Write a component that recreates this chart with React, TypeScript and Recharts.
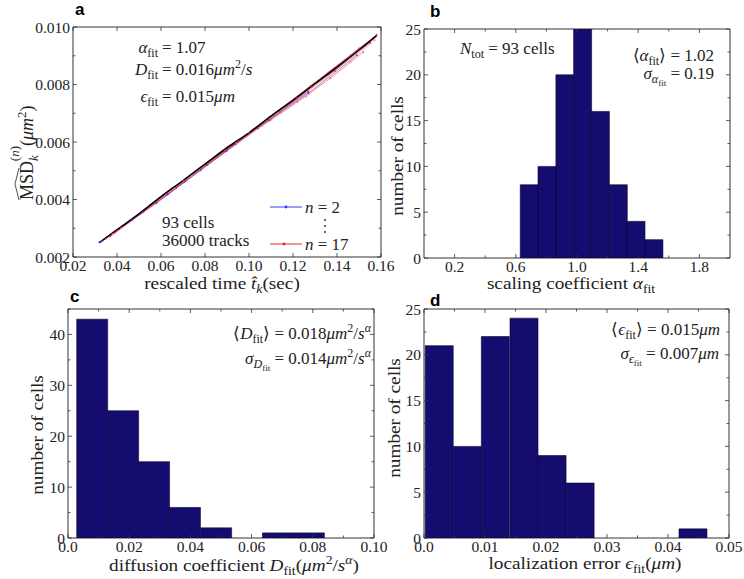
import React from 'react';
import { LineChart, Line, XAxis, YAxis, BarChart, Bar, ReferenceArea } from 'recharts';

const SERIF = '"Liberation Serif", "Times New Roman", serif';
const SANS = '"Liberation Sans", Arial, sans-serif';
const NAVY = '#140c6e';
const FRAME = '#333';
const INK = '#222';

// ---- panel a: rescaled MSD curves, n = 2 .. 17 ----
const fitT = [0.032, 0.04, 0.05, 0.06, 0.07, 0.08, 0.09, 0.1, 0.11, 0.12, 0.13, 0.14, 0.15, 0.158];
const fitMSD = [0.0025, 0.00295, 0.0035, 0.0041, 0.00466, 0.00523, 0.0058, 0.00632, 0.0069, 0.00745, 0.00803, 0.0086, 0.0092, 0.0097];

const n2T = [0.032, 0.047, 0.063, 0.078, 0.094];
const n2MSD = [0.00251, 0.0033, 0.00417, 0.00502, 0.00593];
const n5T = [0.033, 0.052, 0.071, 0.09, 0.109, 0.127];
const n5MSD = [0.00255, 0.00357, 0.00463, 0.0057, 0.00676, 0.00775];
const n8T = [0.035, 0.058, 0.081, 0.104, 0.127, 0.149];
const n8MSD = [0.00264, 0.00388, 0.0052, 0.00648, 0.0077, 0.00902];
const n11T = [0.037, 0.063, 0.089, 0.114, 0.139, 0.155];
const n11MSD = [0.00272, 0.0042, 0.00567, 0.00705, 0.00848, 0.00945];
const n13T = [0.038, 0.066, 0.094, 0.11, 0.122, 0.137, 0.152];
const n13MSD = [0.0028, 0.00437, 0.00596, 0.00677, 0.0074, 0.00822, 0.00912];
const n14T = [0.039, 0.067, 0.095, 0.122, 0.15];
const n14MSD = [0.00285, 0.00442, 0.00602, 0.00753, 0.00925];
const n16T = [0.042, 0.074, 0.106, 0.126, 0.146, 0.157];
const n16MSD = [0.003, 0.00482, 0.00656, 0.00758, 0.00878, 0.00955];
const n17T = [0.04, 0.07, 0.1, 0.128, 0.158];
const n17MSD = [0.00292, 0.00465, 0.00632, 0.00795, 0.00972];

const aXMajor = [0.02, 0.04, 0.06, 0.08, 0.1, 0.12, 0.14, 0.16];
const aYMajor = [0.002, 0.004, 0.006, 0.008, 0.01];
const aYMinor = [0.003, 0.005, 0.007, 0.009];

// ---- panel b: scaling coefficient histogram ----
const alphaBins = [0.687, 0.803, 0.92, 1.036, 1.152, 1.269, 1.385, 1.502];
const alphaCounts = [8, 10, 20, 25, 16, 8, 4, 2];
const bXMajor = [0.2, 0.6, 1.0, 1.4, 1.8];
const bXMinor = [0.4, 0.8, 1.2, 1.6];

// ---- panel c: diffusion coefficient histogram ----
const dBins = [0.0079, 0.018, 0.0281, 0.0382, 0.0484, 0.0585, 0.0686, 0.0787];
const dCounts = [43, 25, 15, 6, 2, 0, 1, 1];
const cXMajor = [0, 0.02, 0.04, 0.06, 0.08, 0.1];
const cXMinor = [0.01, 0.03, 0.05, 0.07, 0.09];
const cYMajor = [0, 10, 20, 30, 40];
const cYMinor = [5, 15, 25, 35, 45];

// ---- panel d: localization error histogram ----
const epsBins = [0.0025, 0.0071, 0.0117, 0.0164, 0.021, 0.0256, 0.0303, 0.0349, 0.0395, 0.0441];
const epsCounts = [21, 10, 22, 24, 9, 6, 0, 0, 0, 1];
const dXMajor = [0, 0.01, 0.02, 0.03, 0.04, 0.05];
const dXMinor = [0.005, 0.015, 0.025, 0.035, 0.045];

const countMajor = [0, 5, 10, 15, 20, 25];
const countMinor = [2.5, 7.5, 12.5, 17.5, 22.5];

const zip = (xs: number[], ys: number[], kx: string, ky: string) => xs.map((x, i) => ({ [kx]: x, [ky]: ys[i] }));
const isIn = (v: number, list: number[]) => list.some((m) => Math.abs(m - v) < 1e-9);
const sorted = (a: number[], b: number[]) => [...a, ...b].sort((p, q) => p - q);
const fmt0 = (d: number) => (v: number) => (v === 0 ? '0.0' : v.toFixed(d));

// inward ticks on bottom + top, label only on major ticks
function xTick(major: number[], fmt: (v: number) => string, plotH: number) {
  return (p: any) => {
    const { x, y, payload } = p;
    const big = isIn(payload.value, major);
    const len = big ? 4 : 2.5;
    return (
      <g>
        <line x1={x} x2={x} y1={y} y2={y - len} stroke={FRAME} strokeWidth={0.8} />
        <line x1={x} x2={x} y1={y - plotH} y2={y - plotH + len} stroke={FRAME} strokeWidth={0.8} />
        {big && (
          <text x={x} y={y + 14} textAnchor="middle" style={{ fontFamily: SERIF, fontSize: 15.5 }} fill={INK}>
            {fmt(payload.value)}
          </text>
        )}
      </g>
    );
  };
}

// inward ticks on left + right
function yTick(major: number[], fmt: (v: number) => string, plotW: number) {
  return (p: any) => {
    const { x, y, payload } = p;
    const big = isIn(payload.value, major);
    const len = big ? 4 : 2.5;
    return (
      <g>
        <line x1={x} x2={x + len} y1={y} y2={y} stroke={FRAME} strokeWidth={0.8} />
        <line x1={x + plotW - len} x2={x + plotW} y1={y} y2={y} stroke={FRAME} strokeWidth={0.8} />
        {big && (
          <text x={x - 3} y={y + 5.5} textAnchor="end" style={{ fontFamily: SERIF, fontSize: 15.5 }} fill={INK}>
            {fmt(payload.value)}
          </text>
        )}
      </g>
    );
  };
}

const curves = [
  { name: 'n2', t: n2T, m: n2MSD, color: '#3a3aff', op: 0.9 },
  { name: 'n5', t: n5T, m: n5MSD, color: '#7a30c8', op: 0.7 },
  { name: 'n8', t: n8T, m: n8MSD, color: '#a02c98', op: 0.7 },
  { name: 'n11', t: n11T, m: n11MSD, color: '#c82c6a', op: 0.7 },
  { name: 'n13', t: n13T, m: n13MSD, color: '#e86a7a', op: 0.6 },
  { name: 'n14', t: n14T, m: n14MSD, color: '#d83048', op: 0.7 },
  { name: 'n16', t: n16T, m: n16MSD, color: '#f08a94', op: 0.6 },
  { name: 'n17', t: n17T, m: n17MSD, color: '#e02828', op: 0.9 },
];

function PanelA() {
  const W = 400, H = 290;
  // plot area: x 73..381, y 27..257 (axes take 1px each)
  const m = { top: 27, left: 72, right: 19, bottom: 32 };
  const pw = W - m.left - 1 - m.right, ph = H - m.top - m.bottom - 1;
  return (
    <LineChart width={W} height={H} margin={m}>
      <XAxis type="number" dataKey="t" domain={[0.02, 0.16]} ticks={aXMajor} interval={0} height={1}
        tickSize={0} tickMargin={0} axisLine={false} tick={xTick(aXMajor, (v) => v.toFixed(2), ph)} allowDataOverflow />
      <YAxis type="number" domain={[0.002, 0.01]} ticks={sorted(aYMajor, aYMinor)} interval={0} width={1}
        tickSize={0} tickMargin={0} axisLine={false} tick={yTick(aYMajor, (v) => v.toFixed(3), pw)} allowDataOverflow />
      {curves.map((c) => (
        <Line key={c.name} data={zip(c.t, c.m, 't', 'msd')} dataKey="msd" type="linear" stroke={c.color}
          strokeOpacity={c.op} strokeWidth={0.9} dot={{ r: 1, fill: c.color, stroke: 'none' }} isAnimationActive={false} />
      ))}
      <Line data={zip(fitT, fitMSD, 't', 'msd')} dataKey="msd" type="monotone" stroke="#000" strokeWidth={1.6}
        dot={false} isAnimationActive={false} />
      <ReferenceArea x1={0.02} x2={0.16} y1={0.002} y2={0.01} fill="none" stroke={FRAME} strokeWidth={1} />
    </LineChart>
  );
}

function Hist(props: {
  W: number; H: number; m: any; bins: number[]; counts: number[]; xDom: number[]; yDom: number[];
  xMajor: number[]; xMinor: number[]; yMajor: number[]; yMinor: number[]; xFmt: (v: number) => string;
}) {
  const { W, H, m, bins, counts, xDom, yDom, xMajor, xMinor, yMajor, yMinor, xFmt } = props;
  const pw = W - m.left - 1 - m.right, ph = H - m.top - m.bottom - 1;
  const data = zip(bins, counts, 'x', 'n');
  return (
    <BarChart width={W} height={H} margin={m} data={data} barCategoryGap={0} barGap={0}>
      <XAxis type="number" dataKey="x" domain={xDom} ticks={sorted(xMajor, xMinor)} interval={0} height={1}
        tickSize={0} tickMargin={0} axisLine={false} tick={xTick(xMajor, xFmt, ph)} allowDataOverflow />
      <YAxis type="number" domain={yDom} ticks={sorted(yMajor, yMinor)} interval={0} width={1}
        tickSize={0} tickMargin={0} axisLine={false} tick={yTick(yMajor, (v) => String(v), pw)} allowDataOverflow />
      <Bar dataKey="n" fill={NAVY} stroke="#0a0630" strokeWidth={0.6} isAnimationActive={false} />
      <ReferenceArea x1={xDom[0]} x2={xDom[1]} y1={yDom[0]} y2={yDom[1]} fill="none" stroke={FRAME} strokeWidth={1} />
    </BarChart>
  );
}

const sub = (s: string, size = 12) => <tspan fontSize={size} dy={4} fontStyle="normal">{s}</tspan>;

function Overlay() {
  const it = { fontStyle: 'italic' as const };
  const sx = 'scale(1.1,1)';
  return (
    <svg width={744} height={579} style={{ position: 'absolute', left: 0, top: 0, pointerEvents: 'none', fontFamily: SERIF }} fill={INK}>
      {/* panel letters */}
      <g style={{ fontFamily: SANS }} fontWeight="bold" fontSize={17} fill="#000">
        <text x={75} y={15}>a</text>
        <text x={430} y={17}>b</text>
        <text x={70} y={302}>c</text>
        <text x={430} y={306}>d</text>
      </g>

      {/* panel a annotations */}
      <g fontSize={17}>
        <text x={158} y={53} textAnchor="end"><tspan {...it}>α</tspan>{sub('fit')}</text>
        <text x={162} y={53}>= 1.07</text>
        <text x={158} y={75} textAnchor="end"><tspan {...it}>D</tspan>{sub('fit')}</text>
        <text x={162} y={75}>= 0.016<tspan {...it}>μm</tspan><tspan fontSize={12} dy={-7}>2</tspan><tspan dy={7}>/</tspan><tspan {...it}>s</tspan></text>
        <text x={158} y={102} textAnchor="end"><tspan {...it}>ϵ</tspan>{sub('fit')}</text>
        <text x={162} y={102}>= 0.015<tspan {...it}>μm</tspan></text>
        <text x={162} y={228}>93 cells</text>
        <text x={162} y={246}>36000 tracks</text>
        <text x={305} y={213}><tspan {...it}>n</tspan> = 2</text>
        <text x={305} y={250}><tspan {...it}>n</tspan> = 17</text>
      </g>
      <line x1={270} x2={302} y1={207} y2={207} stroke="#3a3aff" strokeWidth={1} />
      <circle cx={286} cy={207} r={1.4} fill="#3a3aff" />
      <line x1={270} x2={302} y1={244} y2={244} stroke="#e02828" strokeWidth={1} />
      <circle cx={284} cy={244} r={1.4} fill="#e02828" />
      <circle cx={325} cy={220} r={0.9} fill={INK} />
      <circle cx={325} cy={226} r={0.9} fill={INK} />
      <circle cx={325} cy={232} r={0.9} fill={INK} />

      {/* panel b annotations */}
      <g fontSize={17}>
        <text x={460} y={54}><tspan {...it}>N</tspan>{sub('tot')}<tspan dy={-4}> = 93 cells</tspan></text>
        <text x={714} y={61} textAnchor="end">⟨<tspan {...it}>α</tspan>{sub('fit')}<tspan dy={-4}>⟩ = 1.02</tspan></text>
        <text x={714} y={79} textAnchor="end"><tspan {...it}>σ</tspan><tspan {...it} fontSize={12} dy={4}>α</tspan><tspan fontSize={9} dy={3}>fit</tspan><tspan dy={-7}> = 0.19</tspan></text>
      </g>

      {/* panel c annotations */}
      <g fontSize={17}>
        <text x={371} y={339} textAnchor="end">⟨<tspan {...it}>D</tspan>{sub('fit')}<tspan dy={-4}>⟩ = 0.018</tspan><tspan {...it}>μm</tspan><tspan fontSize={12} dy={-7}>2</tspan><tspan dy={7}>/</tspan><tspan {...it}>s</tspan><tspan {...it} fontSize={12} dy={-7}>α</tspan></text>
        <text x={371} y={364} textAnchor="end"><tspan {...it}>σ</tspan><tspan {...it} fontSize={12} dy={4}>D</tspan><tspan fontSize={9} dy={3}>fit</tspan><tspan dy={-7}> = 0.014</tspan><tspan {...it}>μm</tspan><tspan fontSize={12} dy={-7}>2</tspan><tspan dy={7}>/</tspan><tspan {...it}>s</tspan><tspan {...it} fontSize={12} dy={-7}>α</tspan></text>
      </g>

      {/* panel d annotations */}
      <g fontSize={17}>
        <text x={720} y={335} textAnchor="end">⟨<tspan {...it}>ϵ</tspan>{sub('fit')}<tspan dy={-4}>⟩ = 0.015</tspan><tspan {...it}>μm</tspan></text>
        <text x={719} y={359} textAnchor="end"><tspan {...it}>σ</tspan><tspan {...it} fontSize={12} dy={4}>ϵ</tspan><tspan fontSize={9} dy={3}>fit</tspan><tspan dy={-7}> = 0.007</tspan><tspan {...it}>μm</tspan></text>
      </g>

      {/* axis titles, slightly widened to match the reference's wider serif */}
      <g fontSize={17.5}>
        <text transform={`translate(222,289) ${sx}`} textAnchor="middle">rescaled time <tspan {...it}>t̂</tspan><tspan {...it} fontSize={12.5} dy={4}>k</tspan><tspan dy={-4}>(sec)</tspan></text>
        <text transform={`translate(571,289) ${sx}`} textAnchor="middle">scaling coefficient <tspan {...it}>α</tspan>{sub('fit', 12.5)}</text>
        <text transform={`translate(234,571) ${sx}`} textAnchor="middle">diffusion coefficient <tspan {...it}>D</tspan>{sub('fit', 12.5)}<tspan dy={-4}>(</tspan><tspan {...it}>μm</tspan><tspan fontSize={12.5} dy={-7}>2</tspan><tspan dy={7}>/</tspan><tspan {...it}>s</tspan><tspan {...it} fontSize={12.5} dy={-7}>α</tspan><tspan dy={7}>)</tspan></text>
        <text transform={`translate(585,569) ${sx}`} textAnchor="middle">localization error <tspan {...it}>ϵ</tspan>{sub('fit', 12.5)}<tspan dy={-4}>(</tspan><tspan {...it}>μm</tspan>)</text>
        <text transform={`translate(403,156) rotate(-90) ${sx}`} textAnchor="middle">number of cells</text>
        <text transform={`translate(43,435) rotate(-90) ${sx}`} textAnchor="middle">number of cells</text>
        <text transform={`translate(400,418) rotate(-90) ${sx}`} textAnchor="middle">number of cells</text>
        <g transform="translate(33,200) rotate(-90)">
          <path d="M0,-14 L16,-18 L32,-14" fill="none" stroke={INK} strokeWidth={0.8} />
          <text x={0} y={0} fontSize={18}>MSD<tspan {...it} fontSize={13} dy={5}>k</tspan><tspan fontSize={13} dx={-6} dy={-19}>(</tspan><tspan {...it} fontSize={13}>n</tspan><tspan fontSize={13}>)</tspan><tspan dy={14}>(</tspan><tspan {...it}>μm</tspan><tspan fontSize={13} dy={-7}>2</tspan><tspan dy={7}>)</tspan></text>
        </g>
      </g>
    </svg>
  );
}

export default function App() {
  return (
    <div style={{ position: 'absolute', left: 0, top: 0, width: 744, height: 579, background: '#fff', overflow: 'hidden' }}>
      <div style={{ position: 'absolute', left: 0, top: 0 }}>
        <PanelA />
      </div>
      <div style={{ position: 'absolute', left: 372, top: 0 }}>
        <Hist W={372} H={290} m={{ top: 29, left: 51, right: 14, bottom: 31 }} bins={alphaBins} counts={alphaCounts}
          xDom={[0, 2]} yDom={[0, 25]} xMajor={bXMajor} xMinor={bXMinor} yMajor={countMajor} yMinor={countMinor}
          xFmt={(v) => v.toFixed(1)} />
      </div>
      <div style={{ position: 'absolute', left: 0, top: 290 }}>
        <Hist W={390} H={289} m={{ top: 19, left: 67, right: 16, bottom: 40 }} bins={dBins} counts={dCounts}
          xDom={[0, 0.1]} yDom={[0, 45]} xMajor={cXMajor} xMinor={cXMinor} yMajor={cYMajor} yMinor={cYMinor}
          xFmt={fmt0(2)} />
      </div>
      <div style={{ position: 'absolute', left: 372, top: 290 }}>
        <Hist W={372} H={289} m={{ top: 19, left: 51, right: 15, bottom: 40 }} bins={epsBins} counts={epsCounts}
          xDom={[0, 0.05]} yDom={[0, 25]} xMajor={dXMajor} xMinor={dXMinor} yMajor={countMajor} yMinor={countMinor}
          xFmt={fmt0(2)} />
      </div>
      <Overlay />
    </div>
  );
}
